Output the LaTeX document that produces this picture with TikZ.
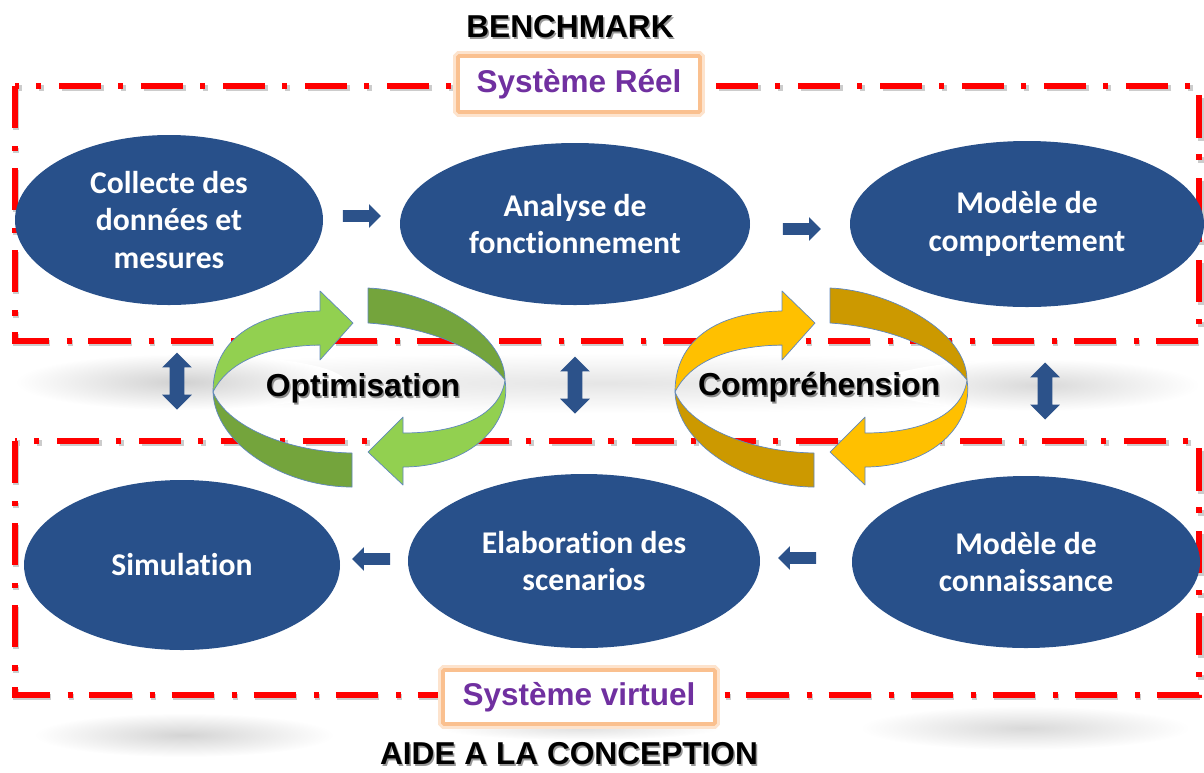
\documentclass[tikz,border=0pt]{standalone}
\usepackage{fontspec}
\setmainfont{Liberation Sans}
\newfontfamily\calibri[Ligatures=NoCommon]{Carlito}
\usetikzlibrary{shapes.geometric,shapes.arrows,calc}

\definecolor{ellblue}{RGB}{40,80,138}
\definecolor{arrblue}{RGB}{44,82,138}
\definecolor{framered}{RGB}{255,0,0}
\definecolor{tagglow}{RGB}{250,192,143}
\definecolor{tagtext}{RGB}{112,48,160}
\definecolor{greenlt}{RGB}{146,208,80}
\definecolor{greendk}{RGB}{116,164,60}
\definecolor{goldlt}{RGB}{255,192,0}
\definecolor{golddk}{RGB}{204,153,0}
\definecolor{ringline}{RGB}{95,135,190}

\newcommand{\px}{0.025cm}

% twisted ring of two arrows: #1 = x shift (px), #2 = front colour, #3 = back colour
\newcommand{\twistring}[3]{%
  \begin{scope}[shift={(#1,0)}]
    % back faces
    \filldraw[#3, ringedge] (368,288) .. controls (425,290) and (505,330) .. (505,380)
      .. controls (485,355) and (440,328) .. (368,323) -- cycle;
    \filldraw[#3, ringedge] (213,392) .. controls (215,445) and (285,487) .. (352,487)
      -- (352,453) .. controls (290,452) and (228,428) .. (213,392) -- cycle;
    % front faces with heads
    \filldraw[#2, ringedge] (213,392) .. controls (213,340) and (255,312) .. (320,311)
      -- (320,291) -- (353,323) -- (320,360) -- (320,345)
      .. controls (265,346) and (228,362) .. (213,392) -- cycle;
    \filldraw[#2, ringedge] (505,380) .. controls (500,415) and (460,433) .. (403,433)
      -- (403,417) -- (368,452) -- (403,485) -- (403,467)
      .. controls (470,467) and (512,425) .. (505,380) -- cycle;
  \end{scope}}

\tikzset{
  ringedge/.style={draw=ringline, line width=0.5pt, line join=round},
  ell/.style={ellipse, fill=ellblue, text=white, align=center, inner sep=0pt,
    font=\calibri\bfseries\fontsize{22.5}{27}\selectfont},
  title/.style={font=\bfseries\fontsize{22.5}{27}\selectfont},
  tag/.style={fill=white, draw=tagglow, line width=2.8pt, rounded corners=1pt,
    preaction={draw=tagglow!45, line width=7pt},
    text=tagtext, font=\bfseries\fontsize{22.4}{27}\selectfont},
  frame/.style={draw=framered, line width=3.6pt,
    dash pattern=on 30pt off 12.8pt on 3.6pt off 12pt},
  frameshadow/.style={draw=black!40, line width=3.6pt, opacity=0.5,
    dash pattern=on 30pt off 12.8pt on 3.6pt off 12pt},
  rarrow/.style={single arrow, fill=arrblue, inner sep=5.5*\px,
    minimum height=38*\px, single arrow head extend=6*\px},
  larrow/.style={rarrow, shape border rotate=180},
  vdarrow/.style={double arrow, fill=arrblue, inner sep=7*\px, shape border rotate=90,
    minimum height=57*\px, double arrow head extend=7.5*\px},
  cyclelbl/.style={font=\bfseries\fontsize{22.6}{27}\selectfont}
}

\begin{document}
\begin{tikzpicture}[x=0.025cm, y=-0.025cm]
\useasboundingbox (0,0) rectangle (1204,772);

% soft shadows
\shade[inner color=black!10, outer color=white] (605,383) ellipse (590 and 30);
\shade[inner color=black!18, outer color=white] (180,382) ellipse (165 and 28);
\shade[inner color=black!15, outer color=white] (1040,385) ellipse (160 and 26);
\shade[inner color=black!17, outer color=white] (184,735) ellipse (150 and 22);
\shade[inner color=black!15, outer color=white] (1025,728) ellipse (165 and 22);
\shade[inner color=black!12, outer color=white] (580,728) ellipse (140 and 12);

% frames
\draw[frameshadow] (16,88) rectangle (1201,343);
\draw[frame] (15,86) rectangle (1199,341);
\draw[frameshadow] (16,443) rectangle (1201,697);
\draw[frame] (15,441) rectangle (1199,695);

% ellipses
\node[ell, minimum width=308*\px, minimum height=170*\px] (collecte) at (169,220) {Collecte des\\données et\\mesures};
\node[ell, minimum width=350*\px, minimum height=162*\px] (analyse) at (575,224) {Analyse de\\fonctionnement};
\node[ell, minimum width=354*\px, minimum height=166*\px] (comport) at (1027,224) {Modèle de\\comportement};
\node[ell, minimum width=316*\px, minimum height=170*\px] (simul) at (182,565) {Simulation};
\node[ell, minimum width=352*\px, minimum height=174*\px] (scenar) at (584,561) {Elaboration des\\scenarios};
\node[ell, minimum width=348*\px, minimum height=172*\px] (connais) at (1026,562) {Modèle de\\connaissance};

% block arrows
\node[rarrow] (ar1) at (359,216) {};
\node[rarrow] (ar2) at (799,229) {};
\node[larrow] (al1) at (374,559) {};
\node[larrow] (al2) at (800,558) {};
\node[vdarrow] (ud1) at (177,381) {};
\node[vdarrow] (ud2) at (575,385) {};
\node[vdarrow] (ud3) at (1045,391) {};

% rings
\twistring{0}{greenlt}{greendk}
\twistring{462}{goldlt}{golddk}
\node[cyclelbl, text=black!45] at (364.5,390) {Optimisation};
\node[cyclelbl] (optim) at (363,388) {Optimisation};
\node[cyclelbl, text=black!45] at (820.5,389) {Compréhension};
\node[cyclelbl] (compr) at (819,387) {Compréhension};

% tags and titles
\node[tag, minimum width=242*\px, minimum height=56*\px] (reel) at (579,84) {Système Réel};
\node[tag, minimum width=272*\px, minimum height=54*\px] (virt) at (579,697) {Système virtuel};
\node[title, text=black!40] at (571.5,28.5) {BENCHMARK};
\node[title] (bench) at (570,27) {BENCHMARK};
\node[title, text=black!40] at (570.5,755.5) {AIDE A LA CONCEPTION};
\node[title] (aide) at (569,754) {AIDE A LA CONCEPTION};
\end{tikzpicture}
\end{document}
